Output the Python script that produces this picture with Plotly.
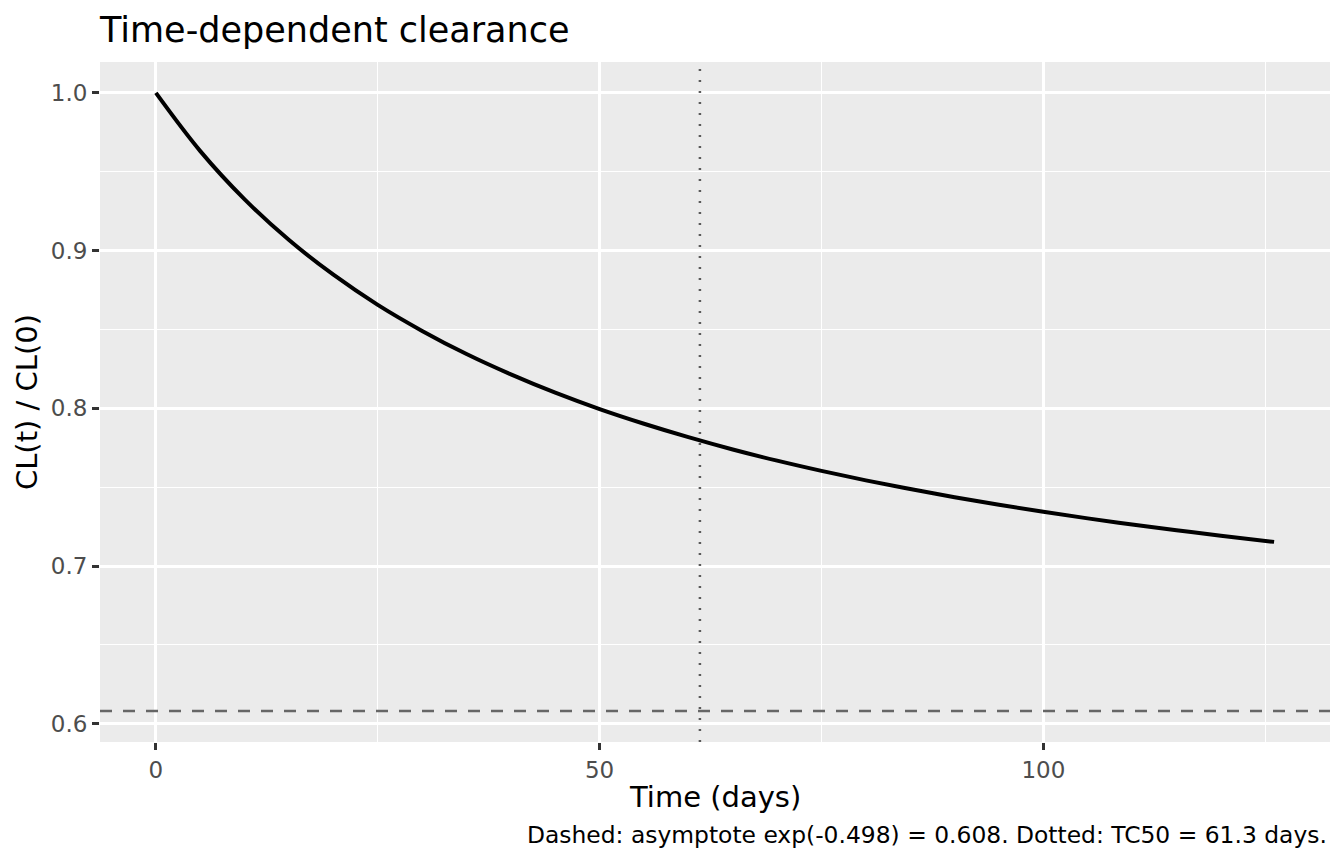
import plotly.graph_objects as go

# --- DATA ---
time_days = [0, 5, 10, 15, 20, 25, 30, 35, 40, 45, 50, 55, 60, 65, 70,
             75, 80, 85, 90, 95, 100, 105, 110, 115, 120, 126]
cl_ratio = [1.0000, 0.9631, 0.9325, 0.9067, 0.8847, 0.8656, 0.8491, 0.8344,
            0.8215, 0.8099, 0.7995, 0.7902, 0.7817, 0.7739, 0.7668, 0.7603,
            0.7543, 0.7488, 0.7436, 0.7388, 0.7344, 0.7302, 0.7263, 0.7227,
            0.7192, 0.7153]
asymptote = 0.608
tc50 = 61.3
x_ticks = [0, 50, 100]
y_ticks = [0.6, 0.7, 0.8, 0.9, 1.0]
y_tick_labels = ["0.6", "0.7", "0.8", "0.9", "1.0"]

FONT = "DejaVu Sans"

fig = go.Figure()
fig.add_trace(go.Scatter(
    x=time_days, y=cl_ratio, mode="lines",
    line=dict(color="black", width=4, shape="spline"),
    showlegend=False,
))

fig.add_hline(y=asymptote, line=dict(color="#666666", width=2.5, dash="12px,11px"))
fig.add_vline(x=tc50, line=dict(color="#5a5a5a", width=2.5, dash="2px,9px"))

grid = dict(showgrid=True, gridcolor="white", gridwidth=2.5, zeroline=False,
            ticks="outside", ticklen=7, tickwidth=2.5, tickcolor="#333333",
            tickfont=dict(family=FONT, size=23, color="#4D4D4D"),
            showline=False)

# page body adds an 8px offset on top/left, so the figure is 8px smaller
fig.update_layout(
    width=1336, height=856,
    margin=dict(l=92, r=14, t=54, b=122),
    paper_bgcolor="white", plot_bgcolor="#EBEBEB",
    font=dict(family=FONT),
    xaxis=dict(range=[-6.3, 132.3], tickvals=x_ticks,
               minor=dict(dtick=25, tick0=0, showgrid=True,
                          gridcolor="white", gridwidth=1.3, ticks=""),
               **grid),
    yaxis=dict(range=[0.5884, 1.0196], tickvals=y_ticks, ticktext=y_tick_labels,
               minor=dict(dtick=0.05, tick0=0.6, showgrid=True,
                          gridcolor="white", gridwidth=1.3, ticks=""),
               **grid),
    annotations=[
        dict(text="Time-dependent clearance", xref="paper", yref="paper",
             x=-0.0024, y=1.047, xanchor="left", yanchor="middle",
             showarrow=False, font=dict(family=FONT, size=35, color="black")),
        dict(text="Time (days)", xref="paper", yref="paper",
             x=0.5, y=-0.0809, xanchor="center", yanchor="middle",
             showarrow=False, font=dict(family=FONT, size=29, color="black")),
        dict(text="CL(t) / CL(0)", xref="paper", yref="paper",
             x=-0.0593, y=0.5, xanchor="center", yanchor="middle",
             textangle=-90, showarrow=False,
             font=dict(family=FONT, size=29, color="black")),
        dict(text="Dashed: asymptote exp(-0.498) = 0.608. Dotted: TC50 = 61.3 days.",
             xref="paper", yref="paper", x=0.9992, y=-0.1368,
             xanchor="right", yanchor="middle", showarrow=False,
             font=dict(family=FONT, size=23.4, color="black")),
    ],
)

fig.write_html("out.html")
